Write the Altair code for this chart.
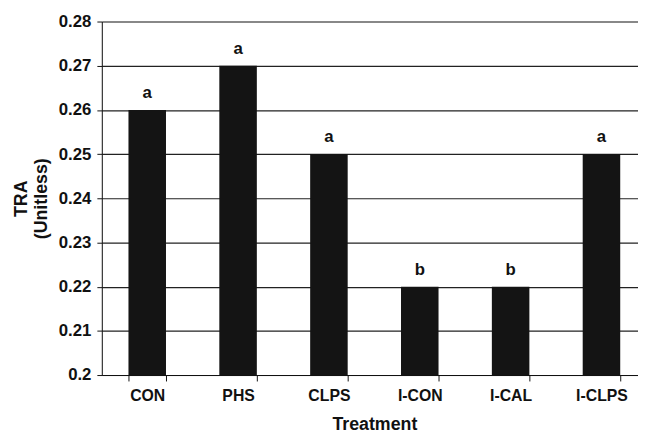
import altair as alt
import pandas as pd

treatments = ["CON", "PHS", "CLPS", "I-CON", "I-CAL", "I-CLPS"]
tra_values = [0.26, 0.27, 0.25, 0.22, 0.22, 0.25]
letters = ["a", "a", "a", "b", "b", "a"]
y_ticks = [0.2, 0.21, 0.22, 0.23, 0.24, 0.25, 0.26, 0.27, 0.28]

df = pd.DataFrame({"Treatment": treatments, "TRA": tra_values, "letter": letters})

FONT = "Liberation Sans"

x_scale = alt.Scale(domain=treatments, range=[0, 552], paddingInner=0.587, paddingOuter=0.2935)
y_scale = alt.Scale(domain=[0.2, 0.28], zero=False, nice=False)

base = alt.Chart(df)

bars = base.mark_bar(color="#141414").encode(
    x=alt.X("Treatment:N", scale=x_scale, sort=treatments,
            axis=alt.Axis(title="Treatment", labelAngle=0, tickBand="extent",
                          labelFont=FONT, labelFontSize=16, labelFontWeight="bold",
                          labelColor="#111", labelPadding=7,
                          titleFont=FONT, titleFontSize=18, titleFontWeight="bold",
                          titleColor="#111", titlePadding=12,
                          domainColor="#111", tickColor="#111", tickSize=6,
                          grid=False)),
    y=alt.Y("TRA:Q", scale=y_scale,
            axis=alt.Axis(title=["TRA", "(Unitless)"], values=y_ticks, format=".2~f",
                          labelFont=FONT, labelFontSize=17, labelFontWeight="bold",
                          labelColor="#111", labelPadding=6,
                          titleFont=FONT, titleFontSize=18, titleFontWeight="bold",
                          titleColor="#111", titlePadding=8, titleLineHeight=20,
                          domainColor="#111", tickColor="#111", tickSize=5,
                          grid=True, gridColor="#222", gridWidth=1.2)),
    y2=alt.datum(0.2),
)

text = base.mark_text(font=FONT, fontSize=17, fontWeight="bold", color="#111",
                      baseline="alphabetic", dy=-12).encode(
    x=alt.X("Treatment:N", scale=x_scale, sort=treatments),
    y=alt.Y("TRA:Q", scale=y_scale),
    text="letter:N",
)

chart = (bars + text).properties(
    width=543, height=358,
    autosize=alt.AutoSizeParams(type="none"),
    padding={"left": 95, "top": 11, "right": 0, "bottom": 56},
).configure_view(stroke=None).configure(background="white")

chart.save("out.html", embed_options={"renderer": "svg", "actions": False})
